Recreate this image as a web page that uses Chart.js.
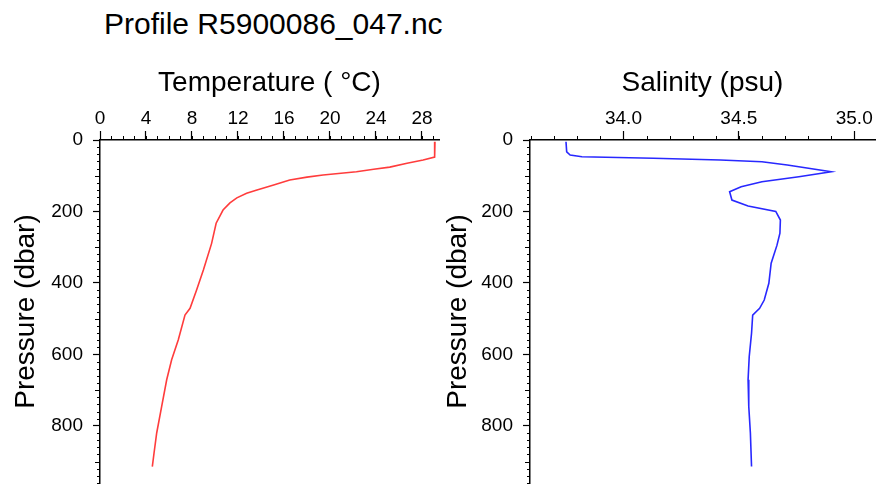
<!DOCTYPE html>
<html>
<head>
<meta charset="utf-8">
<script src="https://cdn.jsdelivr.net/npm/chart.js@4.4.1/dist/chart.umd.min.js"></script>
<style>
  html, body { margin: 0; padding: 0; background: #fff; }
  #wrap { position: relative; width: 889px; height: 485px; overflow: hidden; font-family: "Liberation Sans", Arial, sans-serif; }
  #title { position: absolute; left: 104px; top: 9px; font-size: 30px; line-height: 30px; white-space: nowrap; color: #000; }
  .box { position: absolute; top: 0; height: 485px; }
</style>
</head>
<body>
<div id="wrap">
  <div id="title">Profile R5900086_047.nc</div>
  <div class="box" style="left:0;width:450px"><canvas id="tempChart" width="450" height="485"></canvas></div>
  <div class="box" style="left:430px;width:459px"><canvas id="salChart" width="459" height="485"></canvas></div>
</div>
<script>
// temperature profile
const tempPressure = [5, 48, 56, 65, 76, 82, 89, 98, 104, 112, 126, 140, 149, 162, 176, 196, 233, 290, 364, 420, 471, 490, 559, 615, 671, 746, 820, 876, 914];
const tempValues = [29.13, 29.1, 28.1, 26.7, 25.2, 23.8, 22.3, 19.4, 18.0, 16.5, 15.1, 13.65, 12.75, 11.9, 11.3, 10.7, 10.1, 9.7, 8.99, 8.4, 7.83, 7.39, 6.81, 6.23, 5.8, 5.36, 4.93, 4.7, 4.55];

// salinity profile
const salPressure = [5, 33, 42, 47, 51, 56, 61, 70, 89, 103, 117, 131, 145, 168, 185, 200, 224, 261, 295, 345, 401, 448, 471, 490, 541, 606, 671, 746, 820, 914];
const salValues = [33.751, 33.754, 33.769, 33.82, 34.13, 34.42, 34.60, 34.71, 34.90, 34.76, 34.60, 34.51, 34.46, 34.47, 34.54, 34.66, 34.68, 34.678, 34.665, 34.64, 34.63, 34.61, 34.59, 34.56, 34.555, 34.545, 34.54, 34.543, 34.55, 34.555];

// tick labels
const tempTicks = [0, 4, 8, 12, 16, 20, 24, 28];
const salTicks = [34.0, 34.5, 35.0];
const pressureTicks = [0, 200, 400, 600, 800];

const FONT = '"Liberation Sans", Arial, sans-serif';

// small ticks between the labelled ones
const minorTicks = {
  id: 'minorTicks',
  afterDraw(chart, args, opts) {
    const { ctx, chartArea, scales } = chart;
    ctx.save();
    ctx.strokeStyle = '#000';
    ctx.lineWidth = 1;
    ctx.beginPath();
    const n = Math.floor((scales.x.max - opts.xStart) / opts.xStep + 1e-6);
    for (let i = 0; i <= n; i++) {
      const px = Math.round(scales.x.getPixelForValue(opts.xStart + i * opts.xStep)) + 0.5;
      ctx.moveTo(px, chartArea.top);
      ctx.lineTo(px, chartArea.top - 4);
    }
    for (let v = 20; v <= scales.y.max; v += 20) {
      if (v % 200 === 0) continue;
      const py = Math.round(scales.y.getPixelForValue(v)) + 0.5;
      const len = v % 100 === 0 ? 5 : 3;
      ctx.moveTo(chartArea.left, py);
      ctx.lineTo(chartArea.left - len, py);
    }
    ctx.stroke();
    ctx.restore();
  }
};

function noPad(s) {
  s.paddingTop = 0;
  s.paddingBottom = 0;
  s.paddingLeft = 0;
  s.paddingRight = 0;
}

function makeChart(id, label, xs, ys, color, xMin, xMax, xTicks, xFmt, xTitle, minorOpts) {
  const data = xs.map((x, i) => ({ x: x, y: ys[i] }));
  return new Chart(document.getElementById(id), {
    type: 'scatter',
    data: {
      datasets: [{
        label: label,
        data: data,
        showLine: true,
        borderColor: color,
        borderWidth: 1.6,
        pointRadius: 0,
        tension: 0
      }]
    },
    plugins: [minorTicks],
    options: {
      responsive: false,
      animation: false,
      layout: { padding: { left: 0, top: 0, right: id === 'tempChart' ? 11 : 14, bottom: 2 } },
      plugins: {
        legend: { display: false },
        tooltip: { enabled: false },
        minorTicks: minorOpts
      },
      scales: {
        x: {
          type: 'linear',
          position: 'top',
          min: xMin,
          max: xMax,
          afterFit: s => { s.height = 140; noPad(s); },
          afterBuildTicks: s => { s.ticks = xTicks.map(v => ({ value: v })); },
          border: { display: true, color: '#000', width: 1.5 },
          grid: { drawOnChartArea: false, drawTicks: true, tickLength: 9, tickColor: '#000', tickWidth: 1.2 },
          ticks: { color: '#000', font: { family: FONT, size: 19 }, padding: 1, maxRotation: 0, callback: xFmt },
          title: { display: true, text: xTitle, color: '#000', font: { family: FONT, size: 28, lineHeight: 1 }, padding: { top: 69, bottom: 0 } }
        },
        y: {
          type: 'linear',
          position: 'left',
          reverse: true,
          min: 0,
          max: 960,
          afterFit: s => { s.width = 100; noPad(s); },
          afterBuildTicks: s => { s.ticks = pressureTicks.map(v => ({ value: v })); },
          border: { display: true, color: '#000', width: 1.5 },
          grid: { drawOnChartArea: false, drawTicks: true, tickLength: 7, tickColor: '#000', tickWidth: 1.2 },
          ticks: { color: '#000', font: { family: FONT, size: 19 }, padding: 10 },
          title: { display: true, text: 'Pressure (dbar)', color: '#000', font: { family: FONT, size: 28, lineHeight: 1 }, padding: { top: id === 'tempChart' ? 12 : 14, bottom: 0 } }
        }
      }
    }
  });
}

makeChart('tempChart', 'Temperature', tempValues, tempPressure, 'rgb(255,60,60)',
  0, 29.48, tempTicks, v => String(v), 'Temperature ( °C)', { xStart: 0, xStep: 1 });

makeChart('salChart', 'Salinity', salValues, salPressure, 'rgb(40,40,255)',
  33.595, 35.09, salTicks, v => v.toFixed(1), 'Salinity (psu)', { xStart: 33.6, xStep: 0.1 });
</script>
</body>
</html>
